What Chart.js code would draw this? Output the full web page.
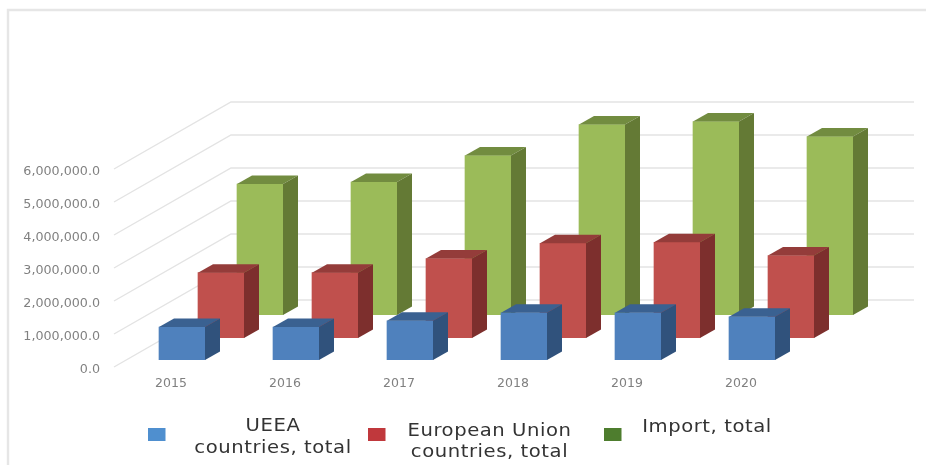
<!DOCTYPE html>
<html><head><meta charset="utf-8">
<style>html,body{margin:0;padding:0;background:#fff}#w{position:relative;width:926px;height:465px}#c{filter:blur(0.4px)}</style>
<script src="https://cdn.jsdelivr.net/npm/chart.js@4"></script>
</head><body><div id="w"><canvas id="c" width="926" height="465"></canvas></div>
<script>
const years = ['2015','2016','2017','2018','2019','2020'];
const ueea = [1000000,1000000,1190000,1430000,1430000,1310000];
const eu = [1980000,1980000,2410000,2870000,2900000,2500000];
const importTotal = [3970000,4030000,4830000,5770000,5860000,5410000];
const yTicks = [0,1000000,2000000,3000000,4000000,5000000,6000000];
const legendLines = [['UEEA','countries, total'],['European Union','countries, total'],['Import, total']];

// depth of each series row behind the axis plane, in px
const depth = [{dx:11,dy:-7},{dx:50,dy:-29},{dx:89,dy:-52}];
const faces = [
 {front:'#4f81bd',top:'#3a6191',side:'#30527c'},
 {front:'#c0504d',top:'#943c3a',side:'#7d2f2d'},
 {front:'#9bbb59',top:'#728c40',side:'#647a35'}];
const SIDE={dx:15,dy:-8.5};
const WALL={dx:117,dy:-67};

const wall3d={id:'wall3d',
 beforeDraw(ch){
  const {ctx}=ch;ctx.save();ctx.strokeStyle='#e6e6e6';ctx.lineWidth=2.4;
  ctx.beginPath();ctx.moveTo(8,465);ctx.lineTo(8,10);ctx.lineTo(926,10);ctx.stroke();ctx.restore();
 },
 beforeDatasetsDraw(ch){
  const {ctx,scales:{y},chartArea:a}=ch;
  ctx.save();ctx.strokeStyle='#e3e3e3';ctx.lineWidth=1.4;
  yTicks.forEach(v=>{const p=y.getPixelForValue(v);
   ctx.beginPath();ctx.moveTo(a.left,p);ctx.lineTo(a.left+WALL.dx,p+WALL.dy);ctx.lineTo(a.right+WALL.dx-1,p+WALL.dy);ctx.stroke();});
  ctx.restore();
 },
 beforeDatasetDraw(ch,args){
  const d=depth[args.index];const {ctx}=ch;
  ctx.save();ctx.translate(d.dx,d.dy);
 },
 afterDatasetDraw(ch,args){
  const {ctx}=ch;const f=faces[args.index];
  args.meta.data.forEach(b=>{
   const p=b.getProps(['x','y','base','width'],true);
   const l=p.x-p.width/2,r=p.x+p.width/2,t=p.y,bt=p.base;
   ctx.fillStyle=f.top;ctx.beginPath();ctx.moveTo(l,t);ctx.lineTo(l+SIDE.dx,t+SIDE.dy);ctx.lineTo(r+SIDE.dx,t+SIDE.dy);ctx.lineTo(r,t);ctx.closePath();ctx.fill();
   ctx.fillStyle=f.side;ctx.beginPath();ctx.moveTo(r,t);ctx.lineTo(r+SIDE.dx,t+SIDE.dy);ctx.lineTo(r+SIDE.dx,bt+SIDE.dy);ctx.lineTo(r,bt);ctx.closePath();ctx.fill();
  });
  ctx.restore();
 },
 afterDraw(ch){
  const {ctx}=ch;ctx.save();
  // legend
  const sw=[[148,428,'#4f8fcf'],[368,428,'#c0383c'],[604,428,'#4e7d2e']];
  const tx=[[273,[426,448]],[489.5,[431,452]],[707,[427]]];
  ctx.textAlign='center';ctx.textBaseline='middle';ctx.font='17.5px "DejaVu Sans"';ctx.letterSpacing='0.5px';
  legendLines.forEach((ls,i)=>{
   ctx.fillStyle=sw[i][2];ctx.fillRect(sw[i][0],sw[i][1],17.5,13);
   ctx.fillStyle='#333333';
   ls.forEach((s,j)=>{ctx.save();ctx.translate(tx[i][0],tx[i][1][j]);ctx.scale(1.12,1);ctx.fillText(s,0,0);ctx.restore();});
  });
  ctx.restore();
 }};

new Chart(document.getElementById('c'),{
 type:'bar',
 data:{labels:years,datasets:[
  {label:'UEEA countries, total',data:ueea,backgroundColor:faces[0].front,order:1},
  {label:'European Union countries, total',data:eu,backgroundColor:faces[1].front,order:2},
  {label:'Import, total',data:importTotal,backgroundColor:faces[2].front,order:3}]},
 options:{responsive:false,animation:false,
  layout:{padding:{left:0,top:169,right:128,bottom:0}},
  datasets:{bar:{grouped:false,barThickness:46}},
  plugins:{legend:{display:false},tooltip:{enabled:false}},
  scales:{
   x:{grid:{display:false},border:{display:false},
      ticks:{color:'#808080',font:{family:'DejaVu Sans',size:12.5},padding:1,maxRotation:0},
      afterFit(s){s.height=98;}},
   y:{min:0,max:6000000,afterBuildTicks(s){s.ticks=yTicks.map(v=>({value:v}));},
      grid:{display:false},border:{display:false},
      ticks:{color:'#808080',font:{family:'DejaVu Sans',size:12.7},padding:6,
       callback:v=>v.toLocaleString('en-US',{minimumFractionDigits:1,maximumFractionDigits:1})},
      afterFit(s){s.width=114;
       if(!s._shifted){const o=s.drawLabels;s.drawLabels=function(a){const c=this.ctx;c.save();c.translate(0,2.5);o.call(this,a);c.restore();};s._shifted=true;}}}
  }},
 plugins:[wall3d]
});
</script></body></html>
